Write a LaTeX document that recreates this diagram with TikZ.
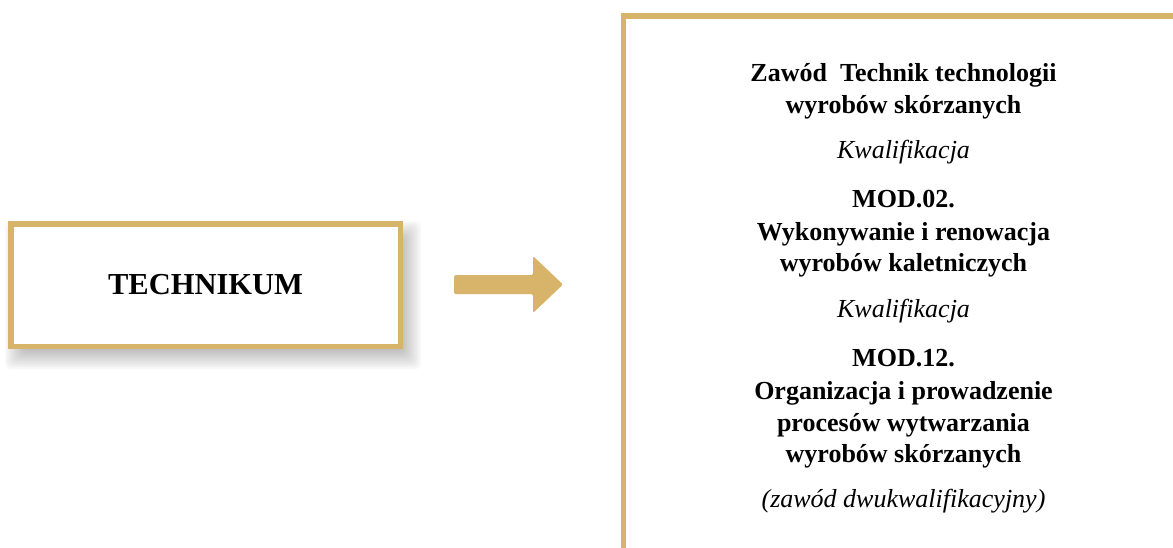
\documentclass[tikz,border=0pt]{standalone}
\usepackage{fontspec}
\setmainfont{Liberation Serif}
\definecolor{gold}{RGB}{215,180,106}
\begin{document}
\begin{tikzpicture}[x=1pt,y=-1pt,
  frame/.style={draw=gold, line width=5.5pt},
  boldline/.style={anchor=base, font=\fontsize{26}{30}\selectfont\bfseries, inner sep=0pt},
  itline/.style={anchor=base, font=\fontsize{26}{30}\selectfont\itshape, inner sep=0pt}]
\useasboundingbox (0,0) rectangle (1173,547);
\clip (0,0) rectangle (1173,547);
% soft shadow of the left box
\foreach \e in {0,2,...,20}
  \fill[black, opacity=0.027, rounded corners=5pt] (25-\e,241-\e) rectangle (401+\e,349+\e);
% left box
\node[frame, fill=white, minimum width=389.5pt, minimum height=122.5pt, inner sep=0pt,
      font=\fontsize{30.5}{36}\selectfont\bfseries] (tech) at (205.5,285) {TECHNIKUM};
% arrow
\fill[gold, rounded corners=1.5pt] (454,275) -- (533,275) -- (533,256) -- (563,284.5)
  -- (533,313) -- (533,294) -- (454,294) -- cycle;
% right box (extends past the picture)
\coordinate (rbl) at (623.5,600);
\coordinate (rtr) at (1200,16);
\draw[gold, line width=5.5pt] (rbl) |- (rtr);
% texts
\node[boldline] (t1) at (903.5,81.5) {Zawód\ \ Technik technologii};
\node[boldline] (t2) at (903.5,113) {wyrobów skórzanych};
\node[itline]   (k1) at (903.5,158) {Kwalifikacja};
\node[boldline] (m1) at (903.5,207) {MOD.02.};
\node[boldline] (m2) at (903.5,240) {Wykonywanie i renowacja};
\node[boldline] (m3) at (903.5,271) {wyrobów kaletniczych};
\node[itline]   (k2) at (903.5,317) {Kwalifikacja};
\node[boldline] (n1) at (903.5,366) {MOD.12.};
\node[boldline] (n2) at (903.5,399) {Organizacja i prowadzenie};
\node[boldline] (n3) at (903.5,431) {procesów wytwarzania};
\node[boldline] (n4) at (903.5,462) {wyrobów skórzanych};
\node[itline]   (z1) at (903.5,507) {(zawód dwukwalifikacyjny)};
\end{tikzpicture}
\end{document}
